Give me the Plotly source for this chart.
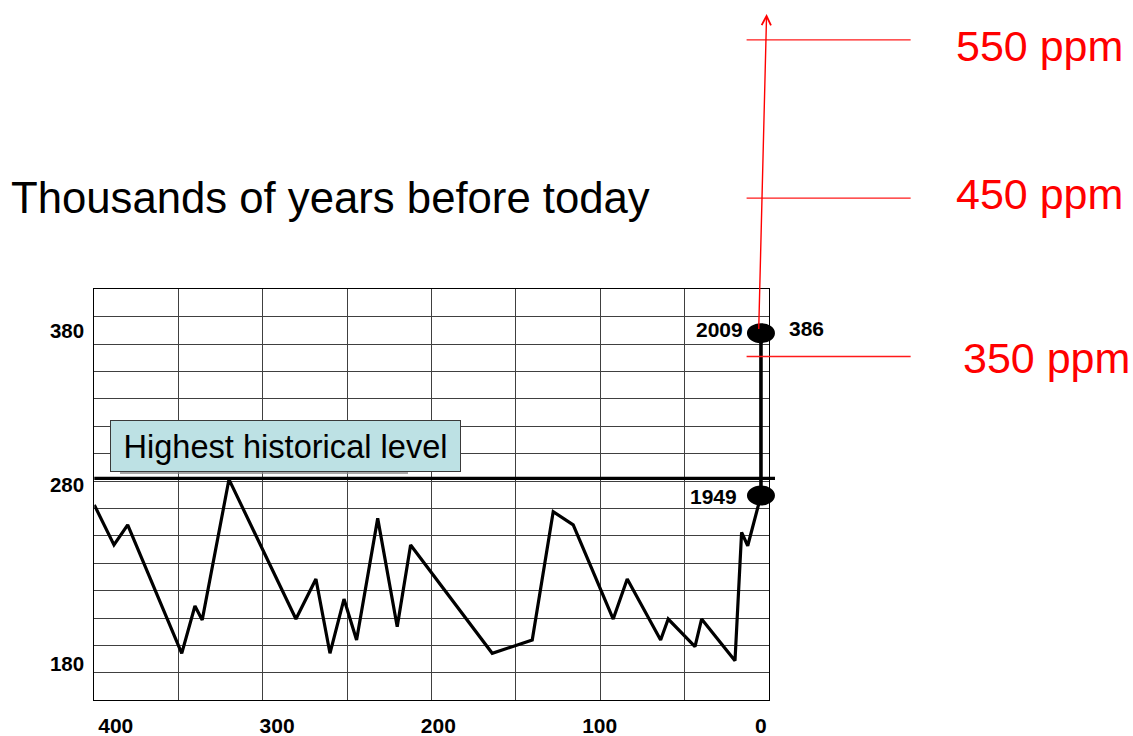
import numpy as np
import plotly.graph_objects as go

W, H = 1133, 736
FONT = "Liberation Sans, Arial, sans-serif"

# ---------------- data ----------------
kyr_before_today = [413.3, 401.1, 392.6, 359.1, 350.9, 346.4, 329.8, 288.3, 275.9, 267.2,
                    258.5, 250.7, 237.6, 225.5, 217.2, 166.6, 141.8, 128.8, 116.4, 91.6,
                    82.9, 62.2, 57.5, 40.9, 36.8, 16.1, 12.0, 8.2, 0.0]
co2_ppm = [262.6, 233.4, 248.0, 154.3, 188.8, 178.6, 281.3, 179.3, 208.5, 154.3,
           193.9, 164.0, 252.8, 173.7, 233.4, 154.3, 164.0, 257.7, 248.0, 179.3,
           208.5, 164.0, 179.3, 159.1, 179.3, 148.9, 242.6, 232.8, 269.5]

recent_years = ["2009", "1949"]
recent_kyr = [0.0, 0.0]
recent_ppm = [388.0, 269.5]
label_2009_value = "386"

historical_max_ppm = 282.0
historical_label = "Highest historical level"

future_levels = [550, 450, 350]
future_labels = ["550 ppm", "450 ppm", "350 ppm"]

x_tickvals = [400, 300, 200, 100, 0]
x_ticktext = ["400", "300", "200", "100", "0"]
y_tickvals = [389.6, 277.2, 146.4]
y_ticktext = ["380", "280", "180"]

title_text = "Thousands of years before today"

# ---------------- layout geometry ----------------
x_range = [413.3, -4.8]
y_range = [120.0, 420.0]
x_domain = [94.3 / W, 768.7 / W]
y_domain = [(H - 700.3) / H, (H - 289.3) / H]
x_grid = list(np.linspace(x_range[0], x_range[1], 9)[1:-1])


def extend(rng, dom):
    a, b = rng
    per = (b - a) / (dom[1] - dom[0])
    return [a - dom[0] * per, a + (1 - dom[0]) * per]


x2_range = extend(x_range, x_domain)
y2_range = extend(y_range, y_domain)
# separate scale for the red projection levels (px per ppm, 450 ppm at px 198.2)
red_px_per_ppm = 1.583
y3_range = [450 - (H - 198.2) / red_px_per_ppm, 450 + 198.2 / red_px_per_ppm]

fig = go.Figure()

# main CO2 record
fig.add_trace(go.Scatter(x=kyr_before_today, y=co2_ppm, mode="lines",
                         line=dict(color="black", width=3.2), showlegend=False,
                         hoverinfo="skip"))

# highest historical level line (slightly overshoots the frame)
fig.add_trace(go.Scatter(x=[x_range[0], -8.7],
                         y=[historical_max_ppm, historical_max_ppm],
                         xaxis="x2", yaxis="y2", mode="lines",
                         line=dict(color="black", width=3.2), showlegend=False,
                         hoverinfo="skip"))

# 1949 -> 2009 rise
fig.add_trace(go.Scatter(x=recent_kyr, y=recent_ppm, xaxis="x2", yaxis="y2",
                         mode="lines", line=dict(color="black", width=3.6),
                         showlegend=False, hoverinfo="skip"))

# red projection levels
for lvl in future_levels:
    fig.add_trace(go.Scatter(x=[8.9, -92.8], y=[lvl, lvl], xaxis="x2", yaxis="y3",
                             mode="lines", line=dict(color="#ff1a1a", width=1.3),
                             showlegend=False, hoverinfo="skip"))

shapes = []
for kx, py in zip(recent_kyr, recent_ppm):
    shapes.append(dict(type="circle", xref="x2", yref="y2", xsizemode="pixel",
                       ysizemode="pixel", xanchor=kx, yanchor=py,
                       x0=-14, x1=14, y0=-10, y1=10,
                       fillcolor="black", line=dict(width=0), layer="above"))
# faint shadow under the label box
shapes.append(dict(type="line", xref="paper", yref="paper",
                   x0=120 / W, x1=408 / W, y0=(H - 473) / H, y1=(H - 473) / H,
                   line=dict(color="#8a8a8a", width=1.5), layer="above"))

annotations = []
annotations.append(dict(text=title_text, xref="paper", yref="paper",
                        x=9 / W, y=(H - 197.5) / H, xanchor="left", yanchor="middle",
                        showarrow=False, font=dict(family=FONT, size=43.7, color="black")))
annotations.append(dict(text=historical_label, xref="x", yref="y",
                        x=294.8, y=305.7, xanchor="center", yanchor="middle",
                        showarrow=False, bgcolor="#bde1e4", bordercolor="#3a3a3a",
                        borderwidth=1, borderpad=0, width=349, height=50,
                        font=dict(family=FONT, size=32.6, color="black")))
# 2009 / 1949 labels
annotations.append(dict(text="<b>%s</b>" % recent_years[0], xref="x2", yref="y2",
                        x=recent_kyr[0], y=recent_ppm[0], xanchor="right",
                        yanchor="middle", xshift=-16, yshift=4, showarrow=False,
                        font=dict(family=FONT, size=21, color="black")))
annotations.append(dict(text="<b>%s</b>" % label_2009_value, xref="x2", yref="y2",
                        x=recent_kyr[0], y=recent_ppm[0], xanchor="left",
                        yanchor="middle", xshift=26, yshift=5, showarrow=False,
                        font=dict(family=FONT, size=21, color="black")))
annotations.append(dict(text="<b>%s</b>" % recent_years[1], xref="x2", yref="y2",
                        x=recent_kyr[1], y=recent_ppm[1], xanchor="right",
                        yanchor="middle", xshift=-22, yshift=-1, showarrow=False,
                        font=dict(family=FONT, size=21, color="black")))
# red labels
for lvl, lab, xl, ys in zip(future_levels, future_labels, [954, 954, 961], [-6, 4, -1]):
    annotations.append(dict(text=lab, xref="paper", yref="y3", x=xl / W, y=lvl,
                            xanchor="left", yanchor="middle", yshift=ys,
                            showarrow=False,
                            font=dict(family=FONT, size=43, color="#ff0000")))
# projection arrow
annotations.append(dict(text="", xref="x2", yref="y2", axref="x2", ayref="y2",
                        x=-3.5, y=621.0, ax=1.4, ay=390.0, showarrow=True,
                        arrowhead=5, arrowsize=1.3, arrowwidth=1.4,
                        arrowcolor="#ff0000", standoff=0, startstandoff=0))

fig.update_layout(
    width=W, height=H, margin=dict(l=0, r=0, t=0, b=0, autoexpand=False),
    paper_bgcolor="white", plot_bgcolor="rgba(0,0,0,0)",
    showlegend=False, shapes=shapes, annotations=annotations,
    xaxis=dict(domain=x_domain, range=x_range, showgrid=False, zeroline=False,
               automargin=False,
               showline=True, mirror=True, linecolor="black", linewidth=1,
               tickmode="array", tickvals=x_tickvals, ticktext=x_ticktext,
               ticks="", ticklabelstandoff=6,
               tickfont=dict(family=FONT, size=21, color="black", weight="bold"),
               minor=dict(tickmode="array", tickvals=x_grid, showgrid=True,
                          gridcolor="#404040", gridwidth=1, ticks="")),
    yaxis=dict(domain=y_domain, range=y_range, showgrid=False, zeroline=False,
               automargin=False,
               showline=True, mirror=True, linecolor="black", linewidth=1,
               tickmode="array", tickvals=y_tickvals, ticktext=y_ticktext,
               ticks="", ticklabelstandoff=5,
               tickfont=dict(family=FONT, size=20.5, color="black", weight="bold"),
               minor=dict(tick0=120, dtick=20, showgrid=True,
                          gridcolor="#404040", gridwidth=1, ticks="")),
    xaxis2=dict(domain=[0, 1], range=x2_range, anchor="y2", visible=False,
                fixedrange=True, automargin=False),
    yaxis2=dict(domain=[0, 1], range=y2_range, anchor="x2", visible=False,
                fixedrange=True, automargin=False),
    yaxis3=dict(range=y3_range, overlaying="y2", anchor="x2", visible=False,
                fixedrange=True, automargin=False),
)

fig.write_html("out.html", config={"displayModeBar": False},
               post_script="document.body.style.margin='0';"
                           "document.body.style.overflow='hidden';")
